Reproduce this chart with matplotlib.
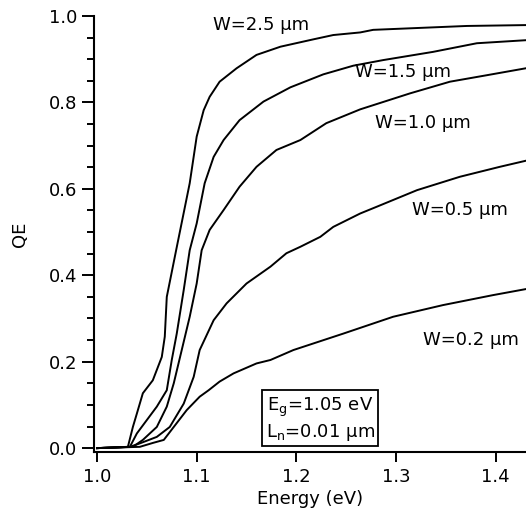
import matplotlib
matplotlib.use('Agg')
from matplotlib import pyplot as plt

plt.rcParams['font.family'] = ['DejaVu Sans']

# photon energy (eV) and QE, one pair per base width
e_25 = [1.0, 1.031, 1.036, 1.040, 1.046, 1.056, 1.065, 1.068, 1.070, 1.080, 1.093, 1.100, 1.107,
        1.113, 1.123, 1.140, 1.160, 1.184, 1.217, 1.237, 1.264, 1.277, 1.371, 1.43]
qe_25 = [0.0, 0.003, 0.049, 0.080, 0.127, 0.157, 0.211, 0.258, 0.350, 0.465, 0.613, 0.721, 0.782,
         0.813, 0.848, 0.879, 0.910, 0.929, 0.946, 0.956, 0.962, 0.968, 0.977, 0.979]

e_15 = [1.0, 1.033, 1.040, 1.050, 1.060, 1.070, 1.075, 1.080, 1.087, 1.093, 1.100, 1.108, 1.117,
        1.127, 1.143, 1.167, 1.194, 1.227, 1.257, 1.287, 1.337, 1.381, 1.43]
qe_15 = [0.0, 0.003, 0.034, 0.065, 0.096, 0.134, 0.204, 0.265, 0.366, 0.458, 0.520, 0.613, 0.674,
         0.713, 0.759, 0.802, 0.835, 0.865, 0.885, 0.898, 0.917, 0.937, 0.944]

e_10 = [1.0, 1.036, 1.046, 1.060, 1.070, 1.077, 1.085, 1.093, 1.100, 1.105, 1.113, 1.127, 1.143,
        1.160, 1.180, 1.204, 1.230, 1.264, 1.314, 1.354, 1.391, 1.43]
qe_10 = [0.0, 0.003, 0.019, 0.049, 0.096, 0.150, 0.227, 0.304, 0.381, 0.458, 0.505, 0.551, 0.605,
         0.651, 0.690, 0.713, 0.752, 0.784, 0.821, 0.848, 0.863, 0.879]

e_05 = [1.0, 1.033, 1.043, 1.060, 1.073, 1.087, 1.097, 1.103, 1.117, 1.130, 1.150, 1.174, 1.190,
        1.204, 1.224, 1.237, 1.264, 1.281, 1.321, 1.364, 1.404, 1.43]
qe_05 = [0.0, 0.003, 0.011, 0.026, 0.049, 0.103, 0.165, 0.227, 0.296, 0.335, 0.381, 0.420, 0.451,
         0.466, 0.489, 0.512, 0.543, 0.559, 0.597, 0.628, 0.651, 0.665]

e_02 = [1.0, 1.043, 1.056, 1.067, 1.077, 1.090, 1.103, 1.112, 1.123, 1.137, 1.160, 1.174, 1.197,
        1.247, 1.297, 1.347, 1.397, 1.43]
qe_02 = [0.0, 0.003, 0.012, 0.019, 0.049, 0.088, 0.119, 0.134, 0.154, 0.173, 0.196, 0.204, 0.227,
         0.265, 0.304, 0.331, 0.354, 0.368]

curves = [(e_25, qe_25), (e_15, qe_15), (e_10, qe_10), (e_05, qe_05), (e_02, qe_02)]

# curve labels: (text, energy, QE) at the left edge of each label
labels = [('W=2.5 μm', 1.116, 0.979),
          ('W=1.5 μm', 1.259, 0.871),
          ('W=1.0 μm', 1.279, 0.753),
          ('W=0.5 μm', 1.316, 0.551),
          ('W=0.2 μm', 1.327, 0.250)]

params_text = 'E$_\\mathregular{g}$=1.05 eV\nL$_\\mathregular{n}$=0.01 μm'

FS = 13


def main():
    fig = plt.figure(figsize=(5.26, 5.15), dpi=100)
    ax = fig.add_axes([0.1787, 0.1223, 0.8213, 0.8466])

    for e, qe in curves:
        ax.plot(e, qe, color='black', lw=1.4)

    for txt, x, y in labels:
        ax.text(x, y, txt, fontsize=FS, ha='left', va='center')

    ax.text(1.2237, 0.067, params_text, fontsize=FS, ha='center', va='center',
            linespacing=1.2,
            bbox=dict(boxstyle='square,pad=0.2', fc='white', ec='black', lw=1.3))

    ax.set_xlim(0.997, 1.4303)
    ax.set_ylim(-0.009, 1.0)
    ax.set_xticks([1.0, 1.1, 1.2, 1.3, 1.4])
    ax.set_yticks([0.0, 0.2, 0.4, 0.6, 0.8, 1.0])
    ax.set_yticks([i * 0.05 for i in range(21)], minor=True)

    ax.spines['top'].set_visible(False)
    ax.spines['right'].set_visible(False)
    for s in ('left', 'bottom'):
        ax.spines[s].set_linewidth(1.5)

    ax.tick_params(axis='both', which='major', direction='out', width=1.4, labelsize=FS)
    ax.tick_params(axis='y', which='major', length=9, pad=3)
    ax.tick_params(axis='x', which='major', length=7.5, pad=4)
    ax.tick_params(axis='y', which='minor', length=5, width=1.4)

    ax.set_xlabel('Energy (eV)', fontsize=FS, labelpad=3)
    ax.set_ylabel('QE', fontsize=FS, labelpad=14)

    fig.savefig('out.png', dpi=100)


if __name__ == '__main__':
    main()
